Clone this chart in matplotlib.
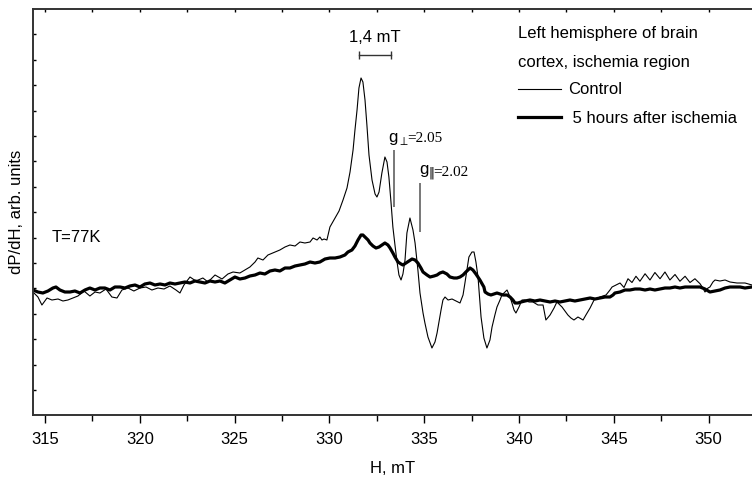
import matplotlib
matplotlib.use('Agg')

import matplotlib.pyplot as plt
import numpy as np

plt.rcParams['font.family'] = ['Liberation Sans', 'DejaVu Sans']
plt.rcParams['font.size'] = 12

# field, mT
h_control = [314.37, 314.63, 314.84, 315.11, 315.37, 315.69, 315.95, 316.21, 316.48, 316.74,
             317.06, 317.37, 317.64, 317.90, 318.22, 318.53, 318.80, 319.06, 319.38, 319.69,
             320.01, 320.33, 320.64, 320.96, 321.28, 321.59, 321.91, 322.12, 322.33, 322.65,
             322.96, 323.33, 323.60, 323.97, 324.34, 324.65, 324.92, 325.28, 325.55, 325.81,
             326.08, 326.23, 326.50, 326.76, 327.13, 327.39, 327.66, 327.92, 328.19, 328.45,
             328.71, 328.98, 329.14, 329.35, 329.50, 329.61, 329.72, 329.87, 330.03, 330.30,
             330.51, 330.72, 330.93, 331.09, 331.25, 331.35, 331.46, 331.56, 331.67, 331.77,
             331.88, 331.98, 332.09, 332.25, 332.41, 332.51, 332.62, 332.77, 332.93, 333.04,
             333.14, 333.25, 333.35, 333.46, 333.57, 333.67, 333.78, 333.88, 333.99, 334.09,
             334.25, 334.41, 334.52, 334.67, 334.78, 334.94, 335.04, 335.20, 335.41, 335.57,
             335.68, 335.89, 335.99, 336.10, 336.26, 336.47, 336.68, 336.89, 337.05, 337.15,
             337.36, 337.52, 337.63, 337.73, 337.84, 338.00, 338.15, 338.31, 338.47, 338.58,
             338.73, 338.84, 339.00, 339.10, 339.26, 339.37, 339.53, 339.63, 339.74, 339.84,
             340.00, 340.16, 340.32, 340.53, 340.74, 341.00, 341.27, 341.42, 341.64, 341.85,
             342.00, 342.27, 342.58, 342.74, 342.90, 343.11, 343.38, 343.53, 343.75, 343.96,
             344.27, 344.59, 344.80, 344.91, 345.12, 345.33, 345.54, 345.75, 345.96, 346.17,
             346.38, 346.65, 346.91, 347.17, 347.44, 347.70, 347.96, 348.23, 348.49, 348.76,
             349.02, 349.28, 349.55, 349.70, 349.81, 349.97, 350.07, 350.23, 350.34, 350.60,
             350.87, 351.13, 351.50, 351.92, 352.29]
control = [3.92, 3.72, 3.40, 3.68, 3.60, 3.64, 3.56, 3.60, 3.68, 3.76,
           3.96, 3.76, 3.92, 3.88, 4.04, 3.72, 3.68, 4.00, 4.08, 3.96,
           4.08, 4.12, 4.00, 4.08, 4.04, 4.16, 4.00, 3.88, 4.20, 4.52,
           4.36, 4.48, 4.32, 4.60, 4.44, 4.64, 4.72, 4.68, 4.80, 4.92,
           5.12, 5.28, 5.20, 5.40, 5.52, 5.60, 5.72, 5.80, 5.76, 5.92,
           5.88, 5.92, 6.08, 6.00, 6.12, 6.00, 6.04, 6.00, 6.52, 6.88,
           7.16, 7.60, 8.08, 8.72, 9.60, 10.40, 11.20, 12.08, 12.48, 12.32,
           11.60, 10.60, 9.40, 8.40, 7.84, 7.72, 7.92, 8.68, 9.32, 9.12,
           8.52, 7.52, 6.52, 5.80, 5.12, 4.60, 4.40, 4.64, 5.20, 6.28,
           6.88, 6.40, 5.88, 4.80, 3.88, 3.08, 2.68, 2.12, 1.68, 1.92,
           2.28, 3.20, 3.60, 3.72, 3.60, 3.64, 3.56, 3.48, 3.80, 4.28,
           5.32, 5.52, 5.52, 5.12, 4.52, 2.92, 2.08, 1.68, 2.00, 2.52,
           3.00, 3.32, 3.60, 3.80, 3.92, 4.00, 3.72, 3.48, 3.20, 3.08,
           3.32, 3.60, 3.60, 3.52, 3.52, 3.40, 3.40, 2.80, 3.00, 3.28,
           3.52, 3.32, 3.00, 2.88, 2.80, 2.92, 2.80, 3.00, 3.28, 3.60,
           3.72, 3.80, 4.00, 4.12, 4.20, 4.28, 4.10, 4.45, 4.30, 4.55,
           4.35, 4.65, 4.40, 4.70, 4.45, 4.72, 4.40, 4.62, 4.35, 4.55,
           4.30, 4.45, 4.25, 4.08, 3.92, 4.08, 4.12, 4.32, 4.40, 4.36,
           4.40, 4.32, 4.28, 4.28, 4.20]

h_ischemia = [314.37, 314.63, 314.89, 315.16, 315.42, 315.58, 315.79, 316.05, 316.32, 316.58,
              316.85, 317.11, 317.37, 317.64, 317.90, 318.16, 318.43, 318.69, 318.96, 319.22,
              319.48, 319.75, 320.01, 320.27, 320.54, 320.80, 321.07, 321.33, 321.59, 321.86,
              322.12, 322.38, 322.65, 322.91, 323.18, 323.44, 323.70, 323.97, 324.23, 324.49,
              324.76, 325.02, 325.28, 325.55, 325.81, 326.08, 326.34, 326.60, 326.87, 327.13,
              327.39, 327.66, 327.92, 328.19, 328.45, 328.71, 328.98, 329.24, 329.50, 329.77,
              330.03, 330.30, 330.56, 330.82, 330.98, 331.19, 331.35, 331.51, 331.67, 331.77,
              331.88, 332.04, 332.14, 332.30, 332.46, 332.62, 332.77, 332.93, 333.09, 333.20,
              333.35, 333.46, 333.62, 333.78, 333.88, 334.04, 334.20, 334.36, 334.52, 334.67,
              334.83, 334.94, 335.15, 335.31, 335.52, 335.68, 335.83, 335.99, 336.20, 336.36,
              336.57, 336.73, 336.89, 337.05, 337.20, 337.42, 337.57, 337.73, 337.94, 338.15,
              338.21, 338.37, 338.52, 338.68, 338.84, 339.00, 339.16, 339.37, 339.53, 339.68,
              339.79, 339.95, 340.11, 340.32, 340.58, 340.84, 341.11, 341.37, 341.64, 341.90,
              342.16, 342.43, 342.69, 342.95, 343.22, 343.48, 343.75, 344.01, 344.27, 344.54,
              344.80, 344.96, 345.06, 345.33, 345.59, 345.85, 346.12, 346.38, 346.65, 346.91,
              347.17, 347.44, 347.70, 347.96, 348.23, 348.49, 348.76, 349.02, 349.28, 349.55,
              349.81, 350.07, 350.34, 350.60, 350.87, 351.13, 351.39, 351.66, 351.92, 352.29]
ischemia = [4.00, 3.92, 3.88, 3.96, 4.08, 4.12, 4.00, 3.92, 3.92, 3.96,
            3.88, 4.00, 4.08, 4.00, 4.08, 4.08, 4.00, 4.12, 4.12, 4.08,
            4.16, 4.20, 4.12, 4.24, 4.28, 4.20, 4.24, 4.20, 4.28, 4.24,
            4.28, 4.32, 4.28, 4.36, 4.32, 4.28, 4.36, 4.32, 4.36, 4.28,
            4.40, 4.52, 4.44, 4.48, 4.56, 4.60, 4.68, 4.64, 4.76, 4.80,
            4.76, 4.88, 4.88, 4.96, 5.00, 5.04, 5.12, 5.08, 5.12, 5.24,
            5.28, 5.28, 5.32, 5.40, 5.52, 5.60, 5.76, 6.00, 6.20, 6.20,
            6.12, 6.00, 5.88, 5.76, 5.68, 5.72, 5.80, 5.88, 5.80, 5.68,
            5.48, 5.32, 5.12, 5.04, 5.00, 5.08, 5.16, 5.24, 5.20, 5.08,
            4.88, 4.72, 4.60, 4.52, 4.56, 4.60, 4.68, 4.72, 4.64, 4.52,
            4.48, 4.48, 4.52, 4.60, 4.72, 4.88, 4.80, 4.64, 4.40, 4.12,
            3.92, 3.84, 3.80, 3.84, 3.88, 3.84, 3.80, 3.80, 3.72, 3.60,
            3.48, 3.48, 3.52, 3.56, 3.60, 3.56, 3.60, 3.56, 3.52, 3.56,
            3.52, 3.56, 3.60, 3.56, 3.60, 3.64, 3.68, 3.64, 3.68, 3.72,
            3.72, 3.80, 3.88, 3.92, 4.00, 4.00, 4.04, 4.04, 4.00, 4.04,
            4.00, 4.04, 4.08, 4.08, 4.12, 4.08, 4.12, 4.12, 4.12, 4.12,
            4.04, 3.92, 3.96, 4.00, 4.08, 4.12, 4.12, 4.12, 4.08, 4.12]

# 1,4 mT scale bar and g-factor markers
bar_h = [331.56, 333.25]
bar_y = 13.4
g_perp_h, g_perp_y = 333.41, [7.32, 9.60]
g_par_h, g_par_y = 334.78, [6.32, 8.28]

fig = plt.figure(figsize=(7.52, 4.8), dpi=100)
ax = fig.add_axes([33/752, 65/480, 719/752, 406/480])

ax.plot(h_control, control, color='black', lw=0.8, label='Control')
ax.plot(h_ischemia, ischemia, color='black', lw=2.3, label=' 5 hours after ischemia')

# scale bar
ax.plot(bar_h, [bar_y, bar_y], color='#333333', lw=1.0)
ax.vlines(bar_h, bar_y - 0.17, bar_y + 0.17, color='#333333', lw=1.0)
ax.text(np.mean(bar_h), bar_y + 0.72, '1,4 mT', ha='center', va='center')

ax.vlines(g_perp_h, g_perp_y[0], g_perp_y[1], color='#777777', lw=1.4)
ax.vlines(g_par_h, g_par_y[0], g_par_y[1], color='#777777', lw=1.4)
ax.text(333.07, 9.92, r'g$_{\perp}$', ha='left', va='baseline')
ax.text(334.12, 9.92, '=2.05', family='Liberation Serif', fontsize=11, ha='left', va='baseline')
ax.text(334.71, 8.60, r'g$_{\Vert}$', ha='left', va='baseline')
ax.text(335.50, 8.56, '=2.02', family='Liberation Serif', fontsize=11, ha='left', va='baseline')

ax.text(0.6745, 0.940, 'Left hemisphere of brain', transform=ax.transAxes, va='center')
ax.text(0.6745, 0.867, 'cortex, ischemia region', transform=ax.transAxes, va='center')
ax.text(0.0264, 0.437, 'T=77K', transform=ax.transAxes, va='center')

ax.legend(loc='upper left', bbox_to_anchor=(0.6745, 0.819), frameon=False,
          borderpad=0, borderaxespad=0, handlelength=2.6, handletextpad=0.4,
          labelspacing=0.82, fontsize=12)

ax.set_xlim(314.37, 352.29)
ax.set_ylim(-1.0, 15.24)
ax.set_xticks(np.arange(315, 351, 5))
ax.set_xticks(np.arange(317.5, 352, 5), minor=True)
ax.set_yticks(np.arange(15) * 1.016)
ax.set_yticklabels([])
ax.tick_params(axis='x', which='major', direction='out', length=5.5, width=1, pad=7)
ax.tick_params(axis='x', which='minor', direction='out', length=4, width=1)
ax.tick_params(axis='y', direction='in', length=2, width=1)

# inward ticks along the top spine every 2.5 mT
top = ax.secondary_xaxis('top')
top.set_xticks(np.arange(315, 352, 2.5))
top.set_xticklabels([])
top.tick_params(direction='in', length=2, width=1)
top.spines['top'].set_visible(False)

for side in ['left', 'bottom', 'top']:
    ax.spines[side].set_linewidth(1.4)
    ax.spines[side].set_color('#333333')
ax.spines['right'].set_visible(False)

ax.set_xlabel('H, mT', labelpad=10)
ax.set_ylabel('dP/dH, arb. units', labelpad=3)

plt.savefig('out.png', dpi=100)
